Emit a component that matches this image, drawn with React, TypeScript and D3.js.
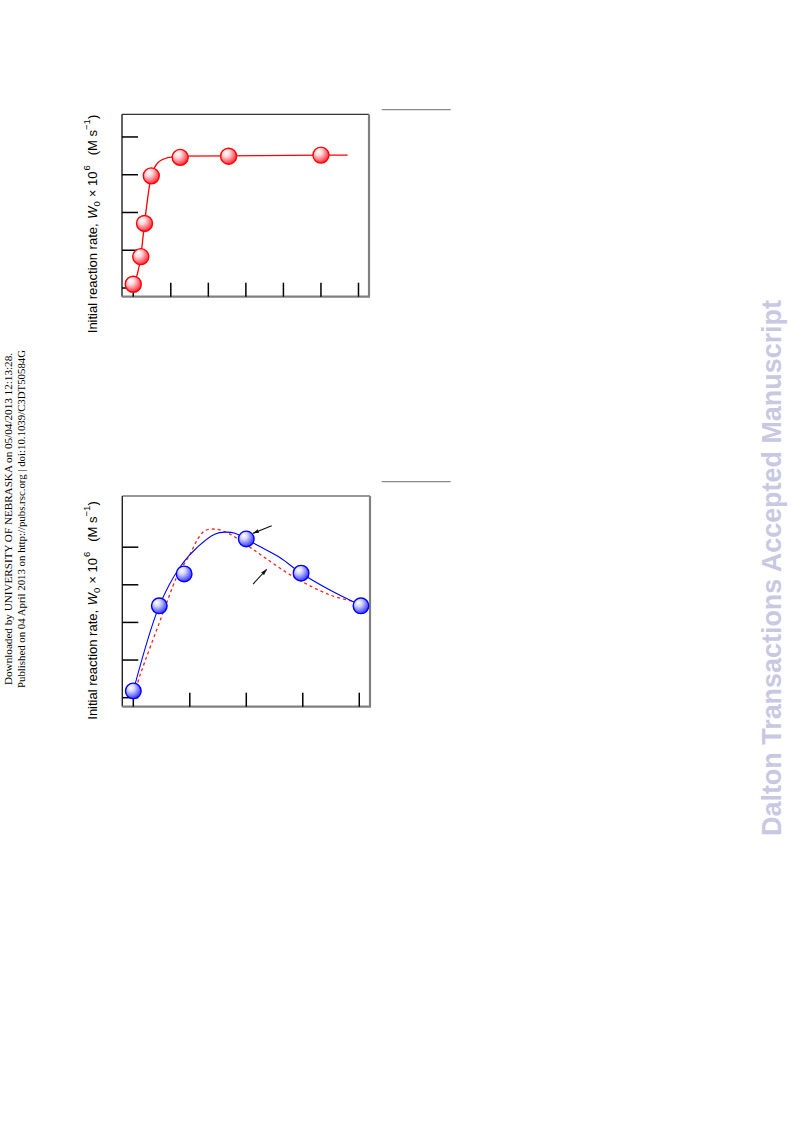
import React from "react";
import * as d3 from "d3";

// ---------- Data (arbitrary units: tick index) ----------
// Panel A (red)
const aPointsX = [0, 0.2, 0.3, 0.48, 1.25, 2.54, 5.0];
const aPointsY = [0.1, 0.83, 1.71, 2.97, 3.46, 3.49, 3.52];
const aFitX = [0, 0.2, 0.3, 0.48, 0.56, 0.68, 0.85, 1.05, 1.25, 2.54, 5.0, 5.71];
const aFitY = [0.05, 0.83, 1.71, 2.97, 3.18, 3.34, 3.43, 3.47, 3.49, 3.5, 3.52, 3.52];
const aTicksX = [0, 1, 2, 3, 4, 5, 6];
const aTicksY = [0, 1, 2, 3, 4];

// Panel B (blue)
const bPointsX = [0, 0.46, 0.9, 2.0, 2.97, 4.03];
const bPointsY = [0.18, 2.44, 3.29, 4.22, 3.31, 2.44];
const bFitX = [0, 0.46, 0.83, 1.15, 1.45, 1.62, 1.8, 1.99, 2.3, 2.6, 2.96, 3.48, 4.03];
const bFitY = [0.18, 2.44, 3.48, 4.02, 4.35, 4.4, 4.37, 4.22, 3.97, 3.72, 3.32, 2.86, 2.45];
const bDashX = [0.02, 0.12, 0.5, 0.71, 0.8, 1.0, 1.15, 1.27, 1.45, 1.68, 1.92, 2.3, 2.83, 3.48, 3.92];
const bDashY = [0.1, 0.6, 2.15, 3.0, 3.31, 3.8, 4.24, 4.44, 4.48, 4.37, 4.15, 3.75, 3.22, 2.73, 2.55];
const bTicksX = [0, 1, 2, 3, 4];
const bTicksY = [0, 1, 2, 3, 4];
// arrows: [x1, y1, x2, y2] in data units
const bArrows = [
  [2.45, 4.57, 2.12, 4.37],
  [2.12, 3.02, 2.36, 3.41],
];

const yLabelParts = {
  pre: "Initial reaction rate, ",
  sym: "W",
  sub: "0",
  mid: "\u00d7 10",
  sup: "6",
  unit: "(M s",
  unitSup: "\u22121",
  close: ")",
};

const sideLine1 = "Downloaded by UNIVERSITY OF NEBRASKA on 05/04/2013 12:13:28.";
const sideLine2 = "Published on 04 April 2013 on http://pubs.rsc.org | doi:10.1039/C3DT50584G";
const watermark = "Dalton Transactions Accepted Manuscript";

type PanelProps = {
  box: { left: number; right: number; top: number; bottom: number };
  xDomain: [number, number];
  yDomain: [number, number];
  xTicks: number[];
  yTicks: number[];
  labelY: number;
  ruleY: number;
  children: (x: d3.ScaleLinear<number, number>, y: d3.ScaleLinear<number, number>) => React.ReactNode;
};

function YLabel({ cx, cy }: { cx: number; cy: number }) {
  const p = yLabelParts;
  return (
    <text
      transform={`translate(${cx},${cy}) rotate(-90)`}
      textAnchor="middle"
      fontFamily="Liberation Sans, Arial, sans-serif"
      fontSize={13}
      fill="#000"
    >
      <tspan>{p.pre}</tspan>
      <tspan fontStyle="italic" dx={1}>{p.sym}</tspan>
      <tspan fontSize={9.5} dy={3}>{p.sub}</tspan>
      <tspan dy={-3} dx={4}>{p.mid}</tspan>
      <tspan fontSize={9.5} dy={-6.5} dx={1}>{p.sup}</tspan>
      <tspan dy={6.5} dx={10}>{p.unit}</tspan>
      <tspan fontSize={9.5} dy={-6.5}>{p.unitSup}</tspan>
      <tspan dy={6.5}>{p.close}</tspan>
    </text>
  );
}

function Panel({ box, xDomain, yDomain, xTicks, yTicks, labelY, ruleY, children }: PanelProps) {
  const x = d3.scaleLinear().domain(xDomain).range([box.left, box.right]);
  const y = d3.scaleLinear().domain(yDomain).range([box.bottom, box.top]);
  return (
    <g>
      {/* frame */}
      <line x1={box.left} y1={box.top} x2={box.right} y2={box.top} stroke="#333" strokeWidth={1.2} />
      <line x1={box.left} y1={box.top} x2={box.left} y2={box.bottom} stroke="#222" strokeWidth={1.4} />
      <line x1={box.left} y1={box.bottom} x2={box.right + 1} y2={box.bottom} stroke="#808080" strokeWidth={2.2} />
      <line x1={box.right} y1={box.top} x2={box.right} y2={box.bottom} stroke="#808080" strokeWidth={2.2} />
      {yTicks.map((t) => (
        <line key={"y" + t} x1={box.left} x2={box.left + 16} y1={y(t)} y2={y(t)} stroke="#000" strokeWidth={1.5} />
      ))}
      {xTicks.map((t) => (
        <line key={"x" + t} x1={x(t)} x2={x(t)} y1={box.bottom} y2={box.bottom - 14} stroke="#000" strokeWidth={1.5} />
      ))}
      <YLabel cx={96.5} cy={labelY} />
      <line x1={381.7} x2={450.7} y1={ruleY} y2={ruleY} stroke="#8a8a8a" strokeWidth={1.2} />
      {children(x, y)}
    </g>
  );
}

export default function App() {
  const line = d3.line<[number, number]>().curve(d3.curveMonotoneX);
  const smooth = d3.line<[number, number]>().curve(d3.curveCatmullRom.alpha(0.5));

  return (
    <svg
      width={793}
      height={1121}
      viewBox="0 0 793 1121"
      style={{ position: "absolute", left: 0, top: 0, background: "#fff" }}
    >
      <defs>
        <radialGradient id="gRed" cx="0.38" cy="0.35" r="0.65" fx="0.33" fy="0.28">
          <stop offset="0" stopColor="#ffffff" />
          <stop offset="0.35" stopColor="#ffd6da" />
          <stop offset="1" stopColor="#ff2a3a" />
        </radialGradient>
        <radialGradient id="gBlue" cx="0.38" cy="0.35" r="0.65" fx="0.33" fy="0.28">
          <stop offset="0" stopColor="#ffffff" />
          <stop offset="0.35" stopColor="#d6d6ff" />
          <stop offset="1" stopColor="#3a3aff" />
        </radialGradient>
        <marker id="arr" viewBox="0 0 10 10" refX="9" refY="5" markerWidth="6" markerHeight="6" orient="auto">
          <path d="M0,2 L10,5 L0,8 z" fill="#111" />
        </marker>
      </defs>
      <rect x={0} y={0} width={793} height={1121} fill="#fff" />

      {/* Panel A */}
      <Panel
        box={{ left: 122, right: 369, top: 114.3, bottom: 296.7 }}
        xDomain={[-0.3, 6.28]}
        yDomain={[-0.23, 4.6]}
        xTicks={aTicksX}
        yTicks={aTicksY}
        labelY={224}
        ruleY={109.7}
      >
        {(x, y) => (
          <g>
            <path
              d={line(aFitX.map((v, i) => [x(v), y(aFitY[i])] as [number, number])) || ""}
              fill="none"
              stroke="#ff0000"
              strokeWidth={1.3}
            />
            {aPointsX.map((v, i) => (
              <circle key={i} cx={x(v)} cy={y(aPointsY[i])} r={8} fill="url(#gRed)" stroke="#ff0000" strokeWidth={1.4} />
            ))}
          </g>
        )}
      </Panel>

      {/* Panel B */}
      <Panel
        box={{ left: 122.3, right: 370, top: 496, bottom: 706.7 }}
        xDomain={[-0.195, 4.19]}
        yDomain={[-0.24, 5.36]}
        xTicks={bTicksX}
        yTicks={bTicksY}
        labelY={610.5}
        ruleY={481.7}
      >
        {(x, y) => (
          <g>
            <path
              d={smooth(bDashX.map((v, i) => [x(v), y(bDashY[i])] as [number, number])) || ""}
              fill="none"
              stroke="#ff2020"
              strokeWidth={1.3}
              strokeDasharray="3,3"
            />
            <path
              d={smooth(bFitX.map((v, i) => [x(v), y(bFitY[i])] as [number, number])) || ""}
              fill="none"
              stroke="#0000ff"
              strokeWidth={1.1}
            />
            {bPointsX.map((v, i) => (
              <circle key={i} cx={x(v)} cy={y(bPointsY[i])} r={7.8} fill="url(#gBlue)" stroke="#0000ff" strokeWidth={1.4} />
            ))}
            {bArrows.map((a, i) => (
              <line
                key={i}
                x1={x(a[0])}
                y1={y(a[1])}
                x2={x(a[2])}
                y2={y(a[3])}
                stroke="#111"
                strokeWidth={1.1}
                markerEnd="url(#arr)"
              />
            ))}
          </g>
        )}
      </Panel>

      {/* side text */}
      <text
        transform="translate(12,685) rotate(-90)"
        fontFamily="Liberation Serif, Times New Roman, serif"
        fontSize={10}
        textLength={332}
        lengthAdjust="spacingAndGlyphs"
        fill="#000"
      >
        {sideLine1}
      </text>
      <text
        transform="translate(25,688) rotate(-90)"
        fontFamily="Liberation Serif, Times New Roman, serif"
        fontSize={10}
        textLength={338}
        lengthAdjust="spacingAndGlyphs"
        fill="#000"
      >
        {sideLine2}
      </text>

      {/* watermark */}
      <text
        transform="translate(781,836) rotate(-90)"
        fontFamily="Liberation Sans, Arial, sans-serif"
        fontWeight="bold"
        fontSize={28}
        textLength={536}
        lengthAdjust="spacingAndGlyphs"
        fill="#c8c8e2"
      >
        {watermark}
      </text>
    </svg>
  );
}
